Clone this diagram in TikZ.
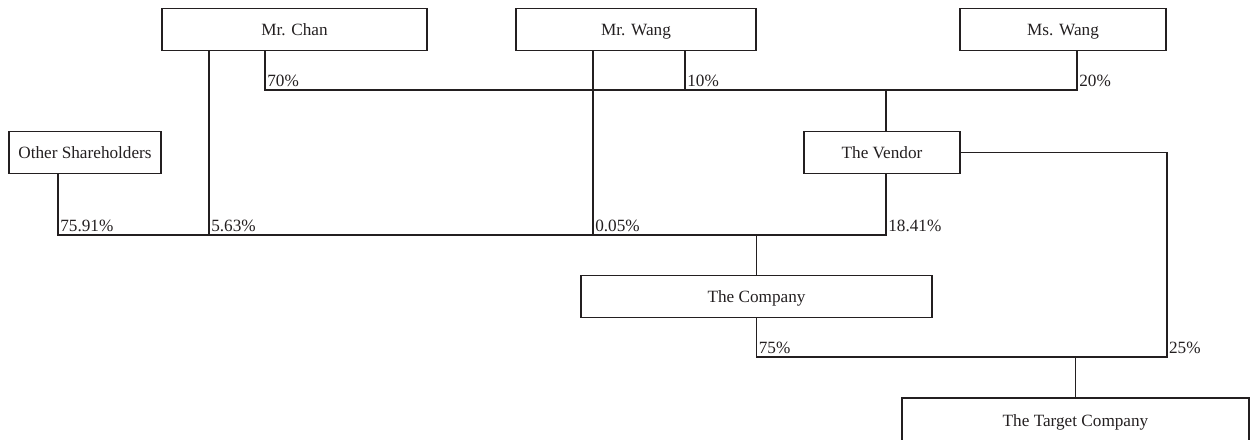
\documentclass[tikz,border=0pt]{standalone}
\usepackage{fontspec}
\setmainfont{Liberation Serif}
\usetikzlibrary{calc}

\definecolor{ink}{RGB}{35,31,32}
\def\busa{90}
\def\busb{235}
\def\busc{357}

\begin{document}
\begin{tikzpicture}[
x=1pt, y=-1pt, color=ink, line width=1.6pt,
box/.style={draw, minimum height=42pt, inner sep=0pt, text height=14.5pt, text depth=2.5pt, font=\fontsize{17.2}{20}\selectfont},
pct/.style={anchor=south west, inner xsep=1.5pt, inner ysep=2.5pt, font=\fontsize{17.2}{20}\selectfont},
]
\useasboundingbox (0,0) rectangle (1252,439);

\node[box, minimum width=265pt] at (294.5,29.5) (chan) {Mr. Chan};
\node[box, minimum width=240pt] at (636,29.5) (wang) {Mr. Wang};
\node[box, minimum width=206pt] at (1063,29.5) (mswang) {Ms. Wang};
\node[box, minimum width=152pt] at (85,152.5) (other) {Other Shareholders};
\node[box, minimum width=156pt] at (882,152.5) (vendor) {The Vendor};
\node[box, minimum width=351pt] at (756.5,296.5) (company) {The Company};
\node[box, minimum width=347pt, minimum height=44pt] at (1075.5,420) (target) {The Target Company};

\coordinate (bus1) at (0,\busa);
\coordinate (bus2) at (0,\busb);
\coordinate (bus3) at (0,\busc);

\coordinate (chanL) at ([xshift=-85.5pt]chan.south);
\coordinate (chanR) at ([xshift=-29.5pt]chan.south);
\coordinate (wangL) at ([xshift=-43pt]wang.south);
\coordinate (wangR) at ([xshift=49pt]wang.south);
\coordinate (mswangB) at ([xshift=14pt]mswang.south);
\coordinate (otherB) at ([xshift=-27pt]other.south);
\coordinate (vendorT) at ([xshift=4pt]vendor.north);
\coordinate (vendorB) at ([xshift=4pt]vendor.south);

% The Vendor:
\draw (chanR) |- (bus1 -| mswangB) -- (mswangB);
\draw (wangR) -- (wangR |- bus1);
\draw (vendorT) -- (vendorT |- bus1);

% The Company:
\draw (otherB) |- (bus2 -| vendorB) -- (vendorB);
\draw (chanL) -- (chanL |- bus2);
\draw (wangL) -- (wangL |- bus2);
\draw (company.north) -- (company.north |- bus2);

% The Target Company:
\draw (vendor.east) -| (mswang.east |- bus3) -| (company.south);
\draw (target.north) -- (target.north |- bus3);

\node[pct] at (chanR |- bus1) (p70) {70\%};
\node[pct] at (wangR |- bus1) (p10) {10\%};
\node[pct] at (mswangB |- bus1) (p20) {20\%};
\node[pct] at (otherB |- bus2) (p7591) {75.91\%};
\node[pct] at (chanL |- bus2) (p563) {5.63\%};
\node[pct] at (wangL |- bus2) (p005) {0.05\%};
\node[pct] at (vendorB |- bus2) (p1841) {18.41\%};
\node[pct] at (company.south |- bus3) (p75) {75\%};
\node[pct] at (mswang.east |- bus3) (p25) {25\%};
\end{tikzpicture}
\end{document}
